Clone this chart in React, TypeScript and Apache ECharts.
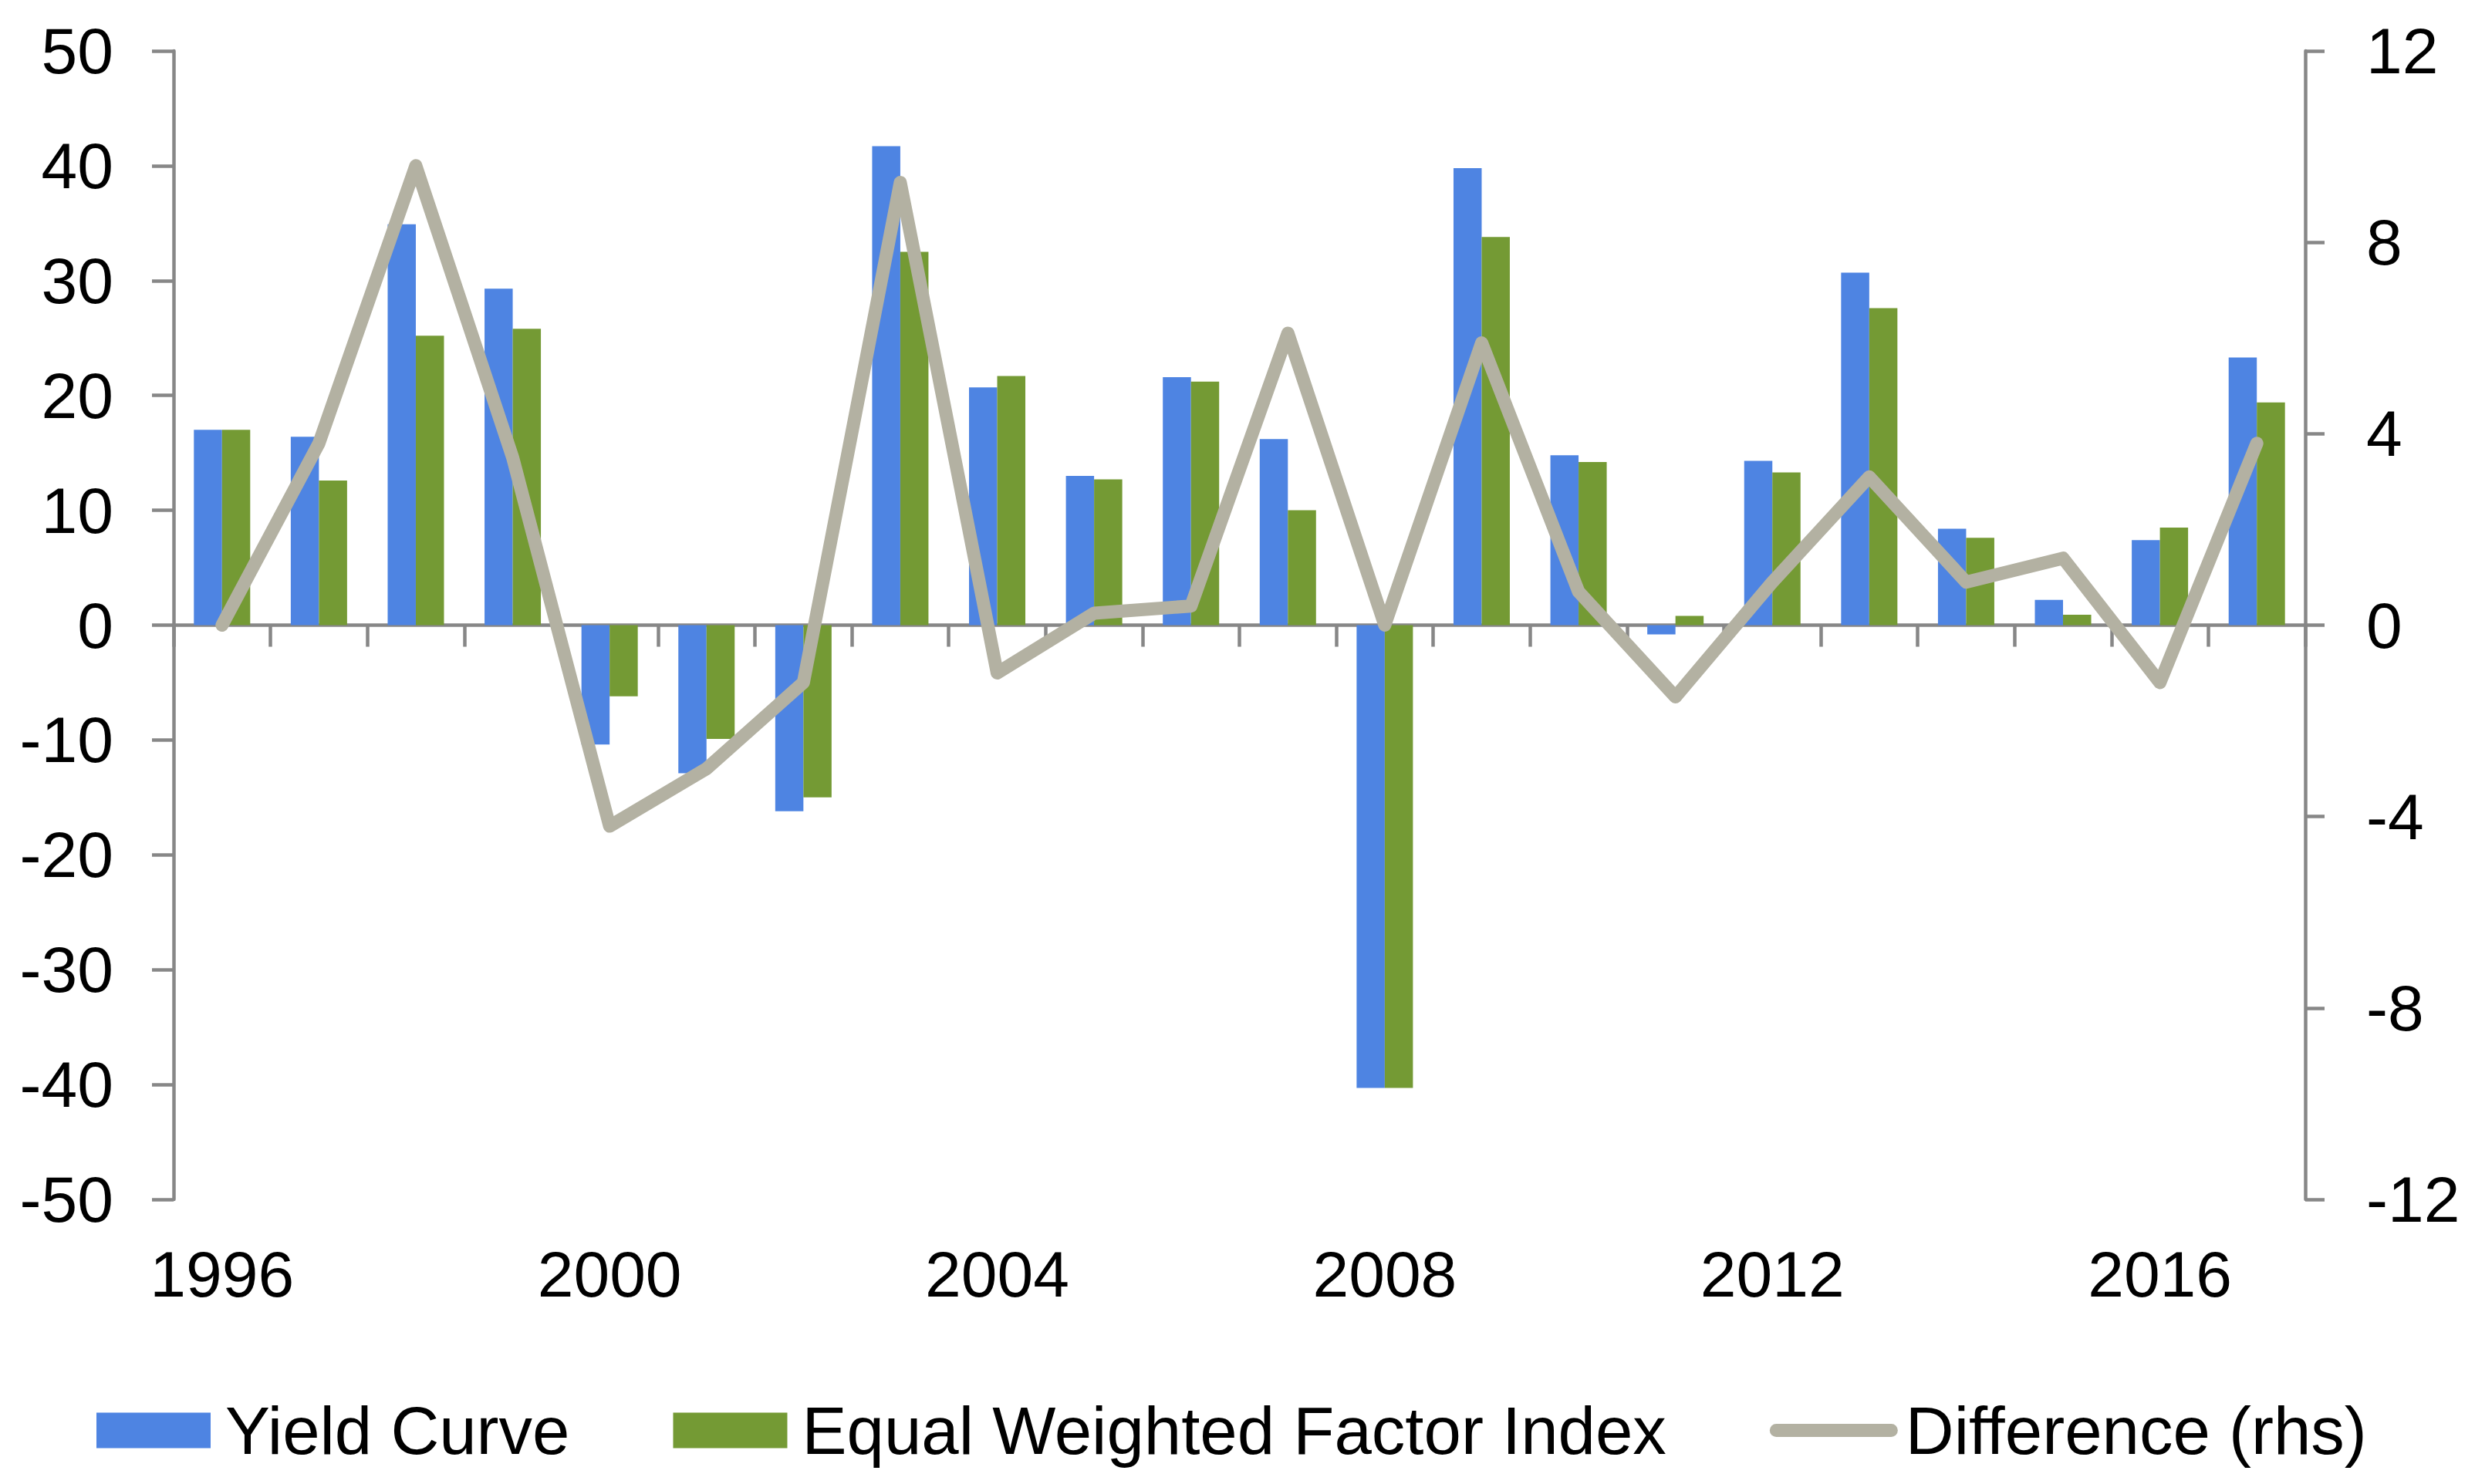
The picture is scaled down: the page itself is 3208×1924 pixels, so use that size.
import React, { useEffect, useRef } from "react";
import * as echarts from "echarts";

const years = ["1996","1997","1998","1999","2000","2001","2002","2003","2004","2005","2006","2007","2008","2009","2010","2011","2012","2013","2014","2015","2016","2017"];
const yieldCurve = [17.0,16.4,34.9,29.3,-10.4,-12.9,-16.2,41.7,20.7,13.0,21.6,16.2,-40.3,39.8,14.8,-0.8,14.3,30.7,8.4,2.2,7.4,23.3];
const equalWeighted = [17.0,12.6,25.2,25.8,-6.2,-9.9,-15.0,32.5,21.7,12.7,21.2,10.0,-40.3,33.8,14.2,0.8,13.3,27.6,7.6,0.9,8.5,19.4];
const difference = [0.0,3.8,9.6,3.5,-4.2,-3.0,-1.2,9.25,-1.0,0.25,0.4,6.1,0.0,5.9,0.7,-1.5,0.9,3.1,0.9,1.4,-1.2,3.8];

const leftTicks = { min: -50, max: 50, interval: 10 };
const rightTicks = { min: -12, max: 12, interval: 4 };

const FONT = "'Liberation Sans', Arial, sans-serif";
const AXIS_GRAY = "#878787";
const BLUE = "#4E84E2";
const GREEN = "#749A34";
const LINE_GRAY = "#B3B1A2";

const RECT_ICON = "path://M0,0 L148,0 L148,46 L0,46 Z";
const LINE_ICON = "path://M8.5,0 L157.5,0 A8.5,8.5 0 0 1 157.5,17 L8.5,17 A8.5,8.5 0 0 1 8.5,0 Z";

export default function App() {
  const ref = useRef<HTMLDivElement>(null);
  useEffect(() => {
    if (!ref.current) return;
    const chart = echarts.init(ref.current, null, { renderer: "svg" });
    const option = {
      animation: false,
      backgroundColor: "#ffffff",
      textStyle: { fontFamily: FONT },
      grid: { left: 225, right: 220, top: 66, bottom: 369, containLabel: false },
      legend: {
        left: 120,
        top: 1806,
        itemWidth: 166,
        itemHeight: 46,
        itemGap: 134,
        symbolKeepAspect: true,
        textStyle: { fontSize: 87, color: "#000", fontFamily: FONT, padding: [0, 0, 0, 5] },
        data: [
          { name: "Yield Curve", icon: RECT_ICON },
          { name: "Equal Weighted Factor Index", icon: RECT_ICON },
          { name: "Difference (rhs)", icon: LINE_ICON, itemStyle: { color: LINE_GRAY } },
        ],
      },
      xAxis: [
        {
          type: "category",
          data: years,
          position: "bottom",
          axisLine: { onZero: true, lineStyle: { color: AXIS_GRAY, width: 4.5 } },
          axisTick: { show: true, interval: 0, length: 28, lineStyle: { color: AXIS_GRAY, width: 4.5 } },
          axisLabel: { show: false },
          splitLine: { show: false },
        },
        {
          type: "category",
          data: years,
          position: "bottom",
          axisLine: { show: false, onZero: false },
          axisTick: { show: false },
          axisLabel: { show: true, interval: 3, margin: 55, fontSize: 84, color: "#000", fontFamily: FONT },
          splitLine: { show: false },
        },
      ],
      yAxis: [
        {
          type: "value",
          min: leftTicks.min,
          max: leftTicks.max,
          interval: leftTicks.interval,
          position: "left",
          axisLine: { show: true, lineStyle: { color: AXIS_GRAY, width: 4.5 } },
          axisTick: { show: true, length: 28, lineStyle: { color: AXIS_GRAY, width: 4.5 } },
          axisLabel: { margin: 78, fontSize: 84, color: "#000", fontFamily: FONT },
          splitLine: { show: false },
        },
        {
          type: "value",
          min: rightTicks.min,
          max: rightTicks.max,
          interval: rightTicks.interval,
          position: "right",
          axisLine: { show: true, lineStyle: { color: AXIS_GRAY, width: 4.5 } },
          axisTick: { show: true, length: 25, lineStyle: { color: AXIS_GRAY, width: 4.5 } },
          axisLabel: { margin: 79, fontSize: 84, color: "#000", fontFamily: FONT },
          splitLine: { show: false },
        },
      ],
      series: [
        {
          name: "Yield Curve",
          type: "bar",
          xAxisIndex: 0,
          yAxisIndex: 0,
          data: yieldCurve,
          barWidth: 36.5,
          barGap: "0%",
          itemStyle: { color: BLUE },
          z: 2,
        },
        {
          name: "Equal Weighted Factor Index",
          type: "bar",
          xAxisIndex: 0,
          yAxisIndex: 0,
          data: equalWeighted,
          barWidth: 36.5,
          barGap: "0%",
          itemStyle: { color: GREEN },
          z: 2,
        },
        {
          name: "Difference (rhs)",
          type: "line",
          xAxisIndex: 0,
          yAxisIndex: 1,
          data: difference,
          symbol: "none",
          showSymbol: false,
          lineStyle: { color: LINE_GRAY, width: 17, cap: "round", join: "round" },
          itemStyle: { color: LINE_GRAY },
          z: 5,
        },
      ],
    };
    chart.setOption(option as any);
    return () => chart.dispose();
  }, []);
  return (
    <div
      ref={ref}
      style={{ position: "fixed", left: 0, top: 0, width: 3208, height: 1924, background: "#fff" }}
    />
  );
}
